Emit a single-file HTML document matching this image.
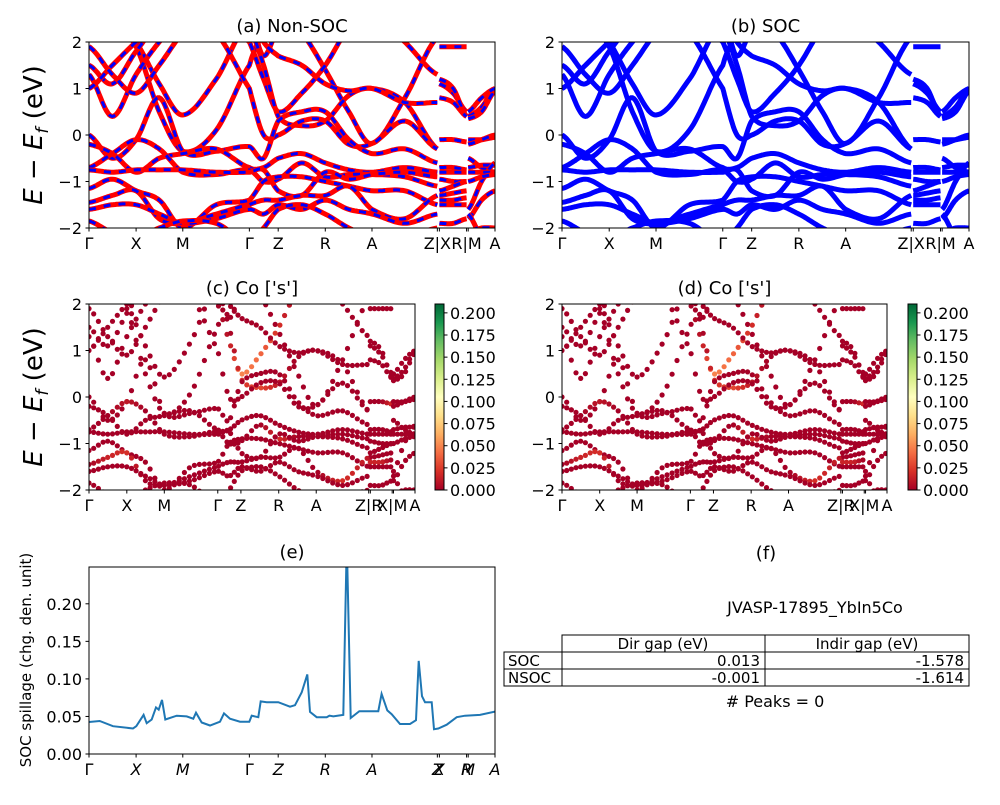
<!DOCTYPE html>
<html><head><meta charset="utf-8"><style>
body{margin:0;background:#fff}
svg text{font-family:"DejaVu Sans","Liberation Sans",sans-serif;fill:#000}
</style></head><body>
<svg id="fig" width="1000" height="800" viewBox="0 0 1000 800" xmlns="http://www.w3.org/2000/svg">
<defs>
<linearGradient id="rdylgn" x1="0" y1="1" x2="0" y2="0">
<stop offset="0" stop-color="#a50026"/><stop offset="0.1" stop-color="#d73027"/><stop offset="0.2" stop-color="#f46d43"/><stop offset="0.3" stop-color="#fdae61"/><stop offset="0.4" stop-color="#fee08b"/><stop offset="0.5" stop-color="#ffffbf"/><stop offset="0.6" stop-color="#d9ef8b"/><stop offset="0.7" stop-color="#a6d96a"/><stop offset="0.8" stop-color="#66bd63"/><stop offset="0.9" stop-color="#1a9850"/><stop offset="1" stop-color="#006837"/>
</linearGradient>
</defs>
</svg>
<script>
// ---- data ----
const kGrid=[0,.0575,.116,.173,.231,.313,.395,.430,.466,.524,.582,.640,.697,.778,.858,.863,.897,.930,.934,.967,1];
const segments=[[0,14],[15,17],[18,20]];
const tickK=[0,.116,.231,.395,.466,.582,.697,.858,.863,.930,.934,1];
const tickLabelsTop=["Γ","X","M","Γ","Z","R","A","Z|X","","R|M","","A"];
const b1=[2.6,2.6,2.0,1.1,0.43,1.2,2.4,1.7,2.3,2.6,2.6,2.6,2.6,2.0,1.3,1.9,1.9,1.9,2.6,2.6,2.6];
const b2=[2.4,2.4,1.9,0.5,-0.35,0.1,1.5,2.2,2.6,2.2,1.4,0.5,-0.18,0.8,2.1,1.1,0.9,0.5,0.4,0.6,1.0];
const b3=[1.5,1.1,1.8,2.4,2.6,2.5,2.0,1.2,0.5,0.9,1.5,2.3,2.6,2.6,2.4,1.2,1.0,0.4,0.35,0.5,0.95];
const b4=[1.3,0.4,1.3,2.0,2.5,2.5,2.3,1.5,0.4,0.2,0.3,0.85,1.0,0.7,-0.3,-0.1,-0.1,-0.15,-0.1,-0.1,-0.05];
const b5=[1.0,1.5,2.0,2.4,2.6,2.2,1.0,0.0,0.0,0.3,0.3,-0.2,-0.18,0.3,-0.3,-0.7,-0.7,-0.75,-0.2,-0.1,0.0];
const b6=[0.0,-0.5,-0.1,0.8,-0.35,-0.35,-0.25,-0.5,0.3,0.5,0.5,-0.1,-0.4,-0.3,-0.6,-0.8,-0.8,-0.8,-0.5,-0.7,-0.8];
const b7=[-0.2,-0.4,-0.8,-0.5,-0.4,-0.3,-0.7,-0.7,-0.5,-0.4,-0.6,-0.75,-0.8,-0.7,-0.8,-1.3,-1.25,-1.2,-0.7,-0.65,-0.65];
const b8=[-0.7,-0.4,-0.1,-0.3,-0.8,-0.85,-0.75,-1.0,-0.95,-0.6,-0.9,-0.85,-0.85,-0.9,-1.1,-1.4,-1.4,-1.35,-1.6,-1.0,-0.6];
const b9=[-0.75,-0.8,-0.75,-0.75,-0.75,-0.8,-0.8,-0.75,-1.2,-1.3,-0.8,-0.95,-0.85,-0.8,-0.9,-0.95,-1.0,-1.0,-0.8,-0.8,-0.8];
const b10=[-1.15,-0.95,-1.2,-1.4,-2.0,-1.5,-1.4,-1.0,-0.9,-0.9,-1.0,-1.1,-1.2,-1.2,-1.5,-1.5,-1.5,-1.5,-1.8,-1.4,-1.2];
const b11=[-1.45,-1.3,-1.2,-1.8,-1.9,-1.7,-1.5,-1.4,-1.4,-1.3,-1.3,-1.1,-1.6,-1.8,-1.3,-1.2,-1.1,-1.0,-1.0,-0.9,-0.85];
const b12=[-1.6,-1.5,-1.5,-1.7,-1.9,-1.8,-1.6,-1.7,-1.5,-1.6,-1.4,-1.6,-1.7,-1.9,-1.7,-1.9,-1.9,-1.8,-2.1,-2.0,-2.0];
const b13=[-1.85,-2.1,-2.2,-2.0,-1.85,-1.9,-2.3,-2.0,-1.6,-1.5,-1.7,-2.0,-2.2,-2.2,-2.0,-2.2,-2.2,-2.2,-1.7,-2.2,-2.4];
const b14=[1.9,1.3,0.9,1.5,2.2,2.6,2.6,2.0,1.7,1.5,1.1,0.95,1.0,0.7,0.7,0.8,0.7,0.4,0.5,0.8,1.0];
const bands=[b1,b2,b3,b4,b5,b6,b7,b8,b9,b10,b11,b12,b13,b14];
const wZero=[0,0,0,0,0,0,0,0,0,0,0,0,0,0,0,0,0,0,0,0,0];
const w3=[0,0,0,0,0,0,0,0.01,0.05,0.04,0.02,0,0,0,0,0,0,0,0,0,0];
const w4=[0,0,0,0,0,0,0,0,0.02,0.03,0.01,0,0,0,0,0,0,0.02,0,0,0];
const w8=[0,0,0.01,0,0,0,0,0,0,0,0.02,0,0,0,0,0.015,0.015,0,0,0,0];
const w11=[0,0.015,0.02,0,0,0,0,0,0,0,0,0,0,0.02,0.01,0,0,0,0,0,0];
const coWeights=[wZero,wZero,w3,w4,wZero,wZero,wZero,w8,wZero,wZero,w11,wZero,wZero,wZero];
const spillK=[0,.0263,.0591,.1084,.1166,.1346,.1420,.1544,.1650,.1716,.1798,.1880,.2159,.2406,.2570,.2635,.2775,.2980,.3227,.3325,.3473,.3719,.3949,.4007,.4171,.4228,.4376,.4663,.4951,.5074,.5238,.5378,.5443,.5608,.5854,.5920,.6018,.6264,.6346,.6355,.6445,.6658,.7126,.7208,.7348,.7455,.7660,.7906,.8054,.8120,.8202,.8276,.8440,.8497,.8604,.8810,.9056,.9261,.9631,1];
const spillV=[0.0426,0.0440,0.037,0.034,0.037,0.052,0.041,0.046,0.062,0.059,0.072,0.046,0.051,0.050,0.047,0.055,0.042,0.038,0.043,0.054,0.047,0.043,0.043,0.051,0.049,0.070,0.069,0.069,0.063,0.065,0.082,0.106,0.056,0.049,0.049,0.051,0.050,0.052,0.27,0.27,0.048,0.057,0.057,0.080,0.058,0.053,0.040,0.040,0.045,0.124,0.077,0.069,0.069,0.033,0.034,0.039,0.049,0.051,0.052,0.0565];
const spillTicks=[0,0.05,0.10,0.15,0.20];
const cbTicks=[0,0.025,0.05,0.075,0.1,0.125,0.15,0.175,0.2];

// ---- helpers ----
const NS="http://www.w3.org/2000/svg";
const svg=document.getElementById('fig');
function mk(tag,attrs,parent){const e=document.createElementNS(NS,tag);for(const a in attrs)e.setAttribute(a,attrs[a]);(parent||svg).appendChild(e);return e;}
function txt(s,x,y,size,anchor,parent,extra){const t=mk('text',Object.assign({x:x,y:y,'font-size':size,'text-anchor':anchor||'middle'},extra||{}),parent);t.textContent=s;return t;}
let clipId=0;
function curve(vals,s,e,n){const pts=[];for(let i=s;i<e;i++){const p0=vals[Math.max(i-1,s)],p1=vals[i],p2=vals[i+1],p3=vals[Math.min(i+2,e)];for(let j=0;j<n;j++){const t=j/n;const E=0.5*(2*p1+(-p0+p2)*t+(2*p0-5*p1+4*p2-p3)*t*t+(-p0+3*p1-3*p2+p3)*t*t*t);pts.push([kGrid[i]+(kGrid[i+1]-kGrid[i])*t,E,i,t]);}}pts.push([kGrid[e],vals[e],e,0]);return pts;}
function rgb(v){const stops=["#a50026","#d73027","#f46d43","#fdae61","#fee08b","#ffffbf","#d9ef8b","#a6d96a","#66bd63","#1a9850","#006837"];let f=Math.max(0,Math.min(1,v/0.21))*10;const i=Math.min(9,Math.floor(f)),t=f-i;const a=stops[i],b=stops[i+1];const c=k=>Math.round(parseInt(a.substr(k,2),16)*(1-t)+parseInt(b.substr(k,2),16)*t);return `rgb(${c(1)},${c(3)},${c(5)})`;}

function bandPanel(x0,y0,w,h,mode,name,title,labels){
  const g=mk('g',{});
  
  
  const sx=k=>x0+k*w, sy=E=>y0+(2-E)/4*h;
  const cid='c'+(clipId++);
  const cp=mk('clipPath',{id:cid},g);mk('rect',{x:x0,y:y0,width:w,height:h},cp);
  const plot=mk('g',{'clip-path':`url(#${cid})`},g);
  bands.forEach((b,bi)=>{
    segments.forEach(([s,e])=>{
      const pts=curve(b,s,e,16);
      if(mode==='dots'){
        const ws=coWeights[bi];
        const stepK=0.011;let last=-1;
        pts.forEach(p=>{if(p[0]-last>=stepK||last<0){last=p[0];
          const i=p[2],t=p[3];const wv=i<e?ws[i]*(1-t)+ws[i+1]*t:ws[i];
          const c=mk('circle',{cx:sx(p[0]).toFixed(1),cy:sy(p[1]).toFixed(1),r:2.6,fill:rgb(wv)},plot);
          
          }});
      }else{
        const d='M'+pts.map(p=>sx(p[0]).toFixed(1)+','+sy(p[1]).toFixed(1)).join('L');
        if(mode==='nsoc'){
          const l1=mk('path',{d:d,fill:'none',stroke:'#ff0000','stroke-width':5},plot);
          
          
          const l2=mk('path',{d:d,fill:'none',stroke:'#0000ff','stroke-width':3,'stroke-dasharray':'7,8'},plot);
          
          
        }else{
          const l=mk('path',{d:d,fill:'none',stroke:'#0000ff','stroke-width':5},plot);
          
          
        }
      }
    });
  });
  mk('rect',{x:x0,y:y0,width:w,height:h,fill:'none',stroke:'#000','stroke-width':1},g);
  [2,1,0,-1,-2].forEach(v=>{const y=sy(v);mk('line',{x1:x0-3.5,x2:x0,y1:y,y2:y,stroke:'#000'},g);
    const t=txt(v<0?'−'+(-v):String(v),x0-7,y+6,16,'end',g);});
  tickK.forEach((k,i)=>{const x=sx(k);mk('line',{x1:x,x2:x,y1:y0+h,y2:y0+h+3.5,stroke:'#000'},g);
    if(labels[i]){const t=txt(labels[i],x,y0+h+21,16,'middle',g);}});
  const tt=txt(title,x0+w/2,y0-10,18,'middle',g);
}
function colorbar(x0,y0,w,h,name){
  const g=mk('g',{});
  
  
  mk('rect',{x:x0,y:y0,width:w,height:h,fill:'url(#rdylgn)',stroke:'#000','stroke-width':1},g);
  cbTicks.forEach(v=>{const y=y0+h-v/0.21*h;mk('line',{x1:x0+w,x2:x0+w+3.5,y1:y,y2:y,stroke:'#000'},g);
    const t=txt(v.toFixed(3),x0+w+6,y+6,16,'start',g);});
}
function ylab(x,y,name){const t=mk('text',{x:x,y:y,'font-size':26,'text-anchor':'middle',transform:`rotate(-90 ${x} ${y})`});
  
  t.innerHTML='<tspan font-style="italic">E</tspan> − <tspan font-style="italic">E</tspan><tspan font-size="17" dy="6" font-style="italic">f</tspan><tspan dy="-6"> (eV)</tspan>';}

bandPanel(89,42,406,186,'nsoc','panel-a-non-soc','(a) Non-SOC',tickLabelsTop);
bandPanel(562,42,407,186,'soc','panel-b-soc','(b) SOC',tickLabelsTop);
bandPanel(89,304,326,186,'dots','panel-c-co-s','(c)  Co [\'s\']',["Γ","X","M","Γ","Z","R","A","Z|R","","X|M","","A"]);
bandPanel(562,304,325,186,'dots','panel-d-co-s','(d) Co [\'s\']',["Γ","X","M","Γ","Z","R","A","Z|R","","X|M","","A"]);
colorbar(435,304,9,186,'colorbar-c');
colorbar(908,304,9,186,'colorbar-d');
ylab(42,135,'y-axis-title-top');
ylab(42,397,'y-axis-title-middle');

// panel e
(function(){
  const x0=89,y0=567,w=406,h=187,ymax=0.249;
  const g=mk('g',{});
  
  
  const sx=k=>x0+k*w, sy=v=>y0+h-v/ymax*h;
  const cp=mk('clipPath',{id:'ce'},g);mk('rect',{x:x0,y:y0,width:w,height:h},cp);
  const d='M'+spillK.map((k,i)=>sx(k).toFixed(1)+','+sy(spillV[i]).toFixed(1)).join('L');
  const l=mk('path',{d:d,fill:'none',stroke:'#1f77b4','stroke-width':2,'clip-path':'url(#ce)'},g);
  
  
  mk('rect',{x:x0,y:y0,width:w,height:h,fill:'none',stroke:'#000'},g);
  spillTicks.forEach(v=>{const y=sy(v);mk('line',{x1:x0-3.5,x2:x0,y1:y,y2:y,stroke:'#000'},g);
    const t=txt(v.toFixed(2),x0-7,y+6,16,'end',g);});
  const labs=["Γ","X","M","Γ","Z","R","A","Z","X","R","M","A"];
  tickK.forEach((k,i)=>{const x=sx(k);mk('line',{x1:x,x2:x,y1:y0+h,y2:y0+h+3.5,stroke:'#000'},g);
    const t=txt(labs[i],x,y0+h+21,16,'middle',g,{'font-style':i===0||i===3?'normal':'italic'});});
  const tt=txt('(e)',x0+w/2,y0-9,18,'middle',g);
  const yl=mk('text',{x:31,y:660,'font-size':15,'text-anchor':'middle',transform:'rotate(-90 31 660)'},g);yl.textContent='SOC spillage (chg. den. unit)';
  
})();
</script>
<svg width="1000" height="800" style="position:absolute;left:0;top:0" xmlns="http://www.w3.org/2000/svg">
<g font-family="DejaVu Sans, Liberation Sans, sans-serif" font-size="15">
<text x="766" y="559" font-size="18" text-anchor="middle">(f)</text>
<text x="815" y="613" font-size="16" text-anchor="middle">JVASP-17895_YbIn5Co</text>
<g fill="none" stroke="#000" stroke-width="1">
<rect x="562" y="635" width="407" height="17"/><line x1="765" y1="635" x2="765" y2="686"/>
<rect x="504" y="652" width="465" height="17"/><rect x="504" y="669" width="465" height="17"/>
<line x1="562" y1="652" x2="562" y2="686"/></g>
<text x="663" y="649" text-anchor="middle">Dir gap (eV)</text>
<text x="867" y="649" text-anchor="middle">Indir gap (eV)</text>
<text x="508" y="666">SOC</text>
<text x="760" y="666" text-anchor="end">0.013</text>
<text x="964" y="666" text-anchor="end">-1.578</text>
<text x="508" y="683">NSOC</text>
<text x="760" y="683" text-anchor="end">-0.001</text>
<text x="964" y="683" text-anchor="end">-1.614</text>
<text x="775" y="707" font-size="16" text-anchor="middle"># Peaks = 0</text>
</g></svg>
</body></html>
